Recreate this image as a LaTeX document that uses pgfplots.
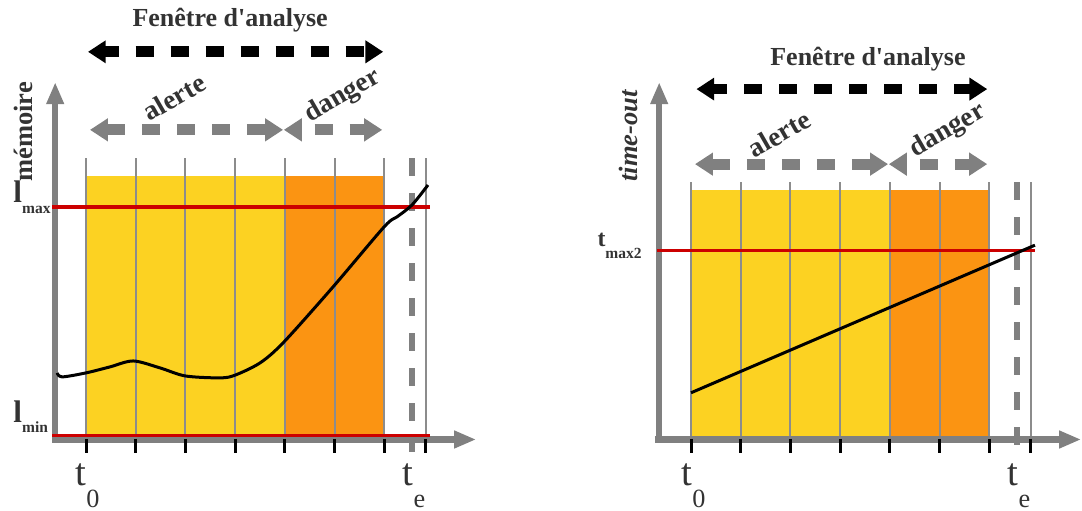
\documentclass[border=0pt]{standalone}
\usepackage{fontspec}
\setmainfont{Liberation Serif}
\newfontfamily\plainserif{Liberation Serif}
\usepackage{pgfplots}
\pgfplotsset{compat=1.18}
\usetikzlibrary{arrows.meta}
\definecolor{yel}{HTML}{FCD222}
\definecolor{ora}{HTML}{FB9412}
\definecolor{redl}{HTML}{CC0000}
\definecolor{gr}{HTML}{808080}
\definecolor{txt}{HTML}{333333}
\definecolor{gridc}{HTML}{8C8C8C}
\tikzset{
  axarrow/.style={gr, line width=2.6pt, -{Triangle[length=8.8pt,width=6.6pt]}},
  gridl/.style={gridc, line width=0.8pt},
  tickl/.style={black, line width=1.2pt},
  redline/.style={redl, line width=1.3pt},
  vdash/.style={gr, line width=2.4pt, dash pattern=on 7.1pt off 6.9pt},
  barr/.style={black, line width=4.3pt, dash pattern=on 7.2pt off 6.8pt, dash phase=1.6pt,
     {Triangle[length=7.1pt,width=8.7pt]}-{Triangle[length=7.1pt,width=8.7pt]}},
  garr/.style={gr, line width=4.4pt, dash pattern=on 7.2pt off 6.8pt,
     {Triangle[length=7.2pt,width=8.8pt]}-{Triangle[length=7.2pt,width=8.8pt]}},
  lab/.style={inner sep=0pt, text=txt},
}
\pgfplotsset{panel/.style={x=19.88pt, y=19.88pt, hide axis, clip=false, anchor=south west,
  ymin=-1.4487, ymax=8.8129, no markers}}
\begin{document}
\begin{tikzpicture}
\useasboundingbox (0pt,0pt) rectangle (432.8pt,204pt);
% ---------------- left panel ----------------
\begin{axis}[panel, at={(0pt,0pt)}, xmin=-1.7304, xmax=9.1348]
\addplot[fill=yel, draw=none] coordinates {(0,0)(0,5.27)(4,5.27)(4,0)} -- cycle;
\addplot[fill=ora, draw=none] coordinates {(4,0)(4,5.27)(6,5.27)(6,0)} -- cycle;
\pgfplotsinvokeforeach{0,1,2,3,4,5,6,6.84}{\addplot[gridl] coordinates {(#1,0.05)(#1,5.63)};}
\addplot[vdash] coordinates {(6.56,5.63)(6.56,-0.28)};
\addplot[axarrow] coordinates {(-0.62,-0.08)(-0.62,7.16)};
\addplot[axarrow] coordinates {(-0.68,-0.03)(7.85,-0.03)};
\pgfplotsinvokeforeach{0,1,2,3,4,5,6,6.84}{\addplot[tickl] coordinates {(#1,-0.02)(#1,-0.30)};}
\addplot[redline] coordinates {(-0.68,4.65)(6.92,4.65)};
\addplot[redline] coordinates {(-0.68,0.05)(6.92,0.05)};
\addplot[black, line width=1.2pt, smooth, tension=0.5] coordinates {
 (-0.58,1.31)(-0.48,1.23)(0,1.31)(0.48,1.43)(0.95,1.55)(1.49,1.41)(1.99,1.25)
 (2.64,1.21)(2.96,1.25)(3.50,1.51)(3.98,1.93)(4.97,3.04)(6.00,4.25)(6.26,4.45)(6.56,4.69)(6.88,5.09)};
\addplot[barr] coordinates {(0.04,7.77)(5.98,7.77)};
\addplot[garr] coordinates {(0.08,6.20)(3.965,6.20)};
\addplot[garr, dash phase=8.4pt] coordinates {(3.98,6.20)(5.96,6.20)};
\node[lab, anchor=base, font=\plainserif\bfseries\fontsize{10.4}{12}\selectfont] at (axis cs:2.90,8.27) {Fenêtre d'analyse};
\node[lab, rotate=30, font=\bfseries\fontsize{11}{12}\selectfont] at (axis cs:1.77,6.86) {alerte};
\node[lab, rotate=30, font=\bfseries\fontsize{11}{12}\selectfont] at (axis cs:5.17,6.88) {danger};
\node[lab, anchor=base, rotate=90, font=\bfseries\fontsize{10.6}{12}\selectfont] at (axis cs:-1.07,6.16) {mémoire};
\node[lab, anchor=base west, font=\bfseries] at (axis cs:-1.47,4.73) {\fontsize{12.5}{12}\selectfont l\fontsize{6.2}{7}\selectfont\raisebox{-4.4pt}{max}};
\node[lab, anchor=base west, font=\bfseries] at (axis cs:-1.47,0.32) {\fontsize{12.5}{12}\selectfont l\fontsize{6.2}{7}\selectfont\raisebox{-4pt}{min}};
\node[lab, anchor=base] at (axis cs:0.03,-0.946) {\fontsize{15.5}{16}\selectfont t\fontsize{10.5}{12}\selectfont\raisebox{-8.9pt}{0}};
\node[lab, anchor=base] at (axis cs:6.6,-0.946) {\fontsize{15.5}{16}\selectfont t\fontsize{10.5}{12}\selectfont\raisebox{-8.9pt}{e}};
\end{axis}
% ---------------- right panel ----------------
\begin{axis}[panel, at={(216pt,0pt)}, xmin=-3.0382, xmax=7.8672]
\addplot[fill=yel, draw=none] coordinates {(0,0)(0,4.99)(4,4.99)(4,0)} -- cycle;
\addplot[fill=ora, draw=none] coordinates {(4,0)(4,4.99)(6,4.99)(6,0)} -- cycle;
\pgfplotsinvokeforeach{0,1,2,3,4,5,6,6.84}{\addplot[gridl] coordinates {(#1,0.05)(#1,5.15)};}
\addplot[vdash] coordinates {(6.56,5.15)(6.56,-0.14)};
\addplot[axarrow] coordinates {(-0.64,-0.08)(-0.64,7.16)};
\addplot[axarrow] coordinates {(-0.72,-0.03)(7.85,-0.03)};
\pgfplotsinvokeforeach{0,1,2,3,4,5,6,6.84}{\addplot[tickl] coordinates {(#1,-0.02)(#1,-0.30)};}
\addplot[redline] coordinates {(-0.68,3.78)(6.92,3.78)};
\addplot[black, line width=1.2pt] coordinates {(0,0.91)(6.92,3.88)};
\addplot[barr] coordinates {(0.11,7.02)(5.96,7.02)};
\addplot[garr] coordinates {(0.08,5.51)(3.965,5.51)};
\addplot[garr, dash phase=8.4pt] coordinates {(3.98,5.51)(5.96,5.51)};
\node[lab, anchor=base, font=\plainserif\bfseries\fontsize{10.4}{12}\selectfont] at (axis cs:3.56,7.50) {Fenêtre d'analyse};
\node[lab, rotate=30, font=\bfseries\fontsize{11}{12}\selectfont] at (axis cs:1.77,6.12) {alerte};
\node[lab, rotate=30, font=\bfseries\fontsize{11}{12}\selectfont] at (axis cs:5.17,6.18) {danger};
\node[lab, anchor=base, rotate=90, font=\bfseries\itshape\fontsize{10.6}{12}\selectfont] at (axis cs:-1.07,6.08) {time-out};
\node[lab, anchor=base west, font=\bfseries] at (axis cs:-1.89,3.86) {\fontsize{9.5}{11}\selectfont t\fontsize{6.2}{7}\selectfont\raisebox{-4.8pt}{max2}};
\node[lab, anchor=base] at (axis cs:0.05,-0.946) {\fontsize{15.5}{16}\selectfont t\fontsize{10.5}{12}\selectfont\raisebox{-8.9pt}{0}};
\node[lab, anchor=base] at (axis cs:6.6,-0.946) {\fontsize{15.5}{16}\selectfont t\fontsize{10.5}{12}\selectfont\raisebox{-8.9pt}{e}};
\end{axis}
\end{tikzpicture}
\end{document}
